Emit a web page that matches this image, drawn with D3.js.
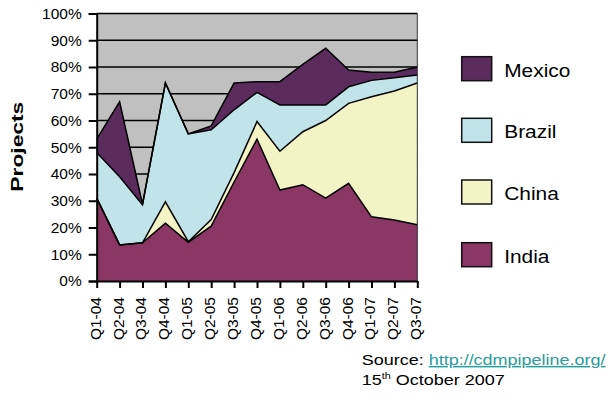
<!DOCTYPE html>
<html>
<head>
<meta charset="utf-8">
<script src="https://cdn.jsdelivr.net/npm/d3@7"></script>
<style>
  html, body { margin: 0; padding: 0; background: #fff; }
  svg { display: block; font-family: "Liberation Sans", Arial, sans-serif; }
</style>
</head>
<body>
<svg id="chart" width="612" height="394"></svg>
<script>
// ---- data (percent of projects, per quarter) ----
const quarters = ["Q1-04","Q2-04","Q3-04","Q4-04","Q1-05","Q2-05","Q3-05","Q4-05",
                  "Q1-06","Q2-06","Q3-06","Q4-06","Q1-07","Q2-07","Q3-07"];
const india  = [31, 13.5, 14.3, 21.6, 14.5, 20.5, 37, 53, 34, 36, 31, 36.5, 24, 22.8, 21];
const china  = [0, 0, 0, 8, 0.2, 2.5, 3.5, 6.6, 14.5, 19.8, 29, 29.9, 44.9, 48.2, 53];
const brazil = [17, 25.5, 14.2, 44.4, 40.3, 33.5, 23.5, 10.9, 17.3, 10, 5.8, 6.2, 6.1, 5, 3];
const mexico = [5, 28, 0.2, 0, 0, 1.5, 10, 4, 8.7, 15.2, 21.2, 6.3, 3, 2, 3];
const yTicks = [0, 10, 20, 30, 40, 50, 60, 70, 80, 90, 100];
const seriesNames = ["India", "China", "Brazil", "Mexico"];
const legendOrder = ["Mexico", "Brazil", "China", "India"];
const colors = { India: "#8b3766", China: "#f3f3c6", Brazil: "#c0e4ea", Mexico: "#5c2b5e" };

const table = quarters.map((q, i) => ({
  q, India: india[i], China: china[i], Brazil: brazil[i], Mexico: mexico[i]
}));

const svg = d3.select("#chart");
const L = 96.7, R = 417.3, T = 13.5, B = 281;

const x = d3.scalePoint().domain(quarters).range([L, R]);
const y = d3.scaleLinear().domain([0, 100]).range([B, T]);

// plot background
svg.append("rect").attr("x", L).attr("y", T).attr("width", R - L).attr("height", B - T)
  .attr("fill", "#c0c0c0");

// gridlines
svg.append("g").selectAll("line").data(yTicks.filter(d => d > 0)).join("line")
  .attr("x1", L).attr("x2", R).attr("y1", d => y(d)).attr("y2", d => y(d))
  .attr("stroke", "#000").attr("stroke-width", 1.6);

// stacked areas
const stack = d3.stack().keys(seriesNames);
const layers = stack(table);
const area = d3.area().x(d => x(d.data.q)).y0(d => y(d[0])).y1(d => y(d[1]));
const topLine = d3.line().x(d => x(d.data.q)).y(d => y(d[1]));

svg.append("g").selectAll("path").data(layers).join("path")
  .attr("d", area).attr("fill", d => colors[d.key]);
svg.append("g").selectAll("path").data(layers).join("path")
  .attr("d", topLine).attr("fill", "none").attr("stroke", "#000")
  .attr("stroke-width", 1.5).attr("stroke-linejoin", "miter");

// right border
svg.append("line").attr("x1", R).attr("x2", R).attr("y1", T).attr("y2", B)
  .attr("stroke", "#333").attr("stroke-width", 1);

// y axis
const yAxis = d3.axisLeft(y).tickValues(yTicks).tickFormat(d => d + "%").tickSize(8).tickPadding(7);
const gy = svg.append("g").attr("transform", `translate(${L},0)`).call(yAxis);
gy.select(".domain").attr("stroke", "#000").attr("stroke-width", 2);
gy.selectAll(".tick line").attr("stroke", "#000").attr("stroke-width", 2);
gy.selectAll(".tick text").attr("font-size", 15.5).attr("fill", "#000")
  .attr("font-family", "Liberation Sans, Arial, sans-serif");

// x axis
const xAxis = d3.axisBottom(x).tickSize(7).tickSizeOuter(0);
const gx = svg.append("g").attr("transform", `translate(0,${B})`).call(xAxis);
gx.select(".domain").attr("stroke", "#000").attr("stroke-width", 2);
gx.selectAll(".tick line").attr("stroke", "#000").attr("stroke-width", 2);
gx.selectAll(".tick text")
  .attr("font-size", 15.5).attr("fill", "#000")
  .attr("font-family", "Liberation Sans, Arial, sans-serif")
  .attr("text-anchor", "end")
  .attr("transform", "translate(-2,16) rotate(-90)")
  .attr("x", 0).attr("y", 0).attr("dy", "0.35em");

// y title
svg.append("text")
  .attr("transform", "translate(17,146.7) rotate(-90)")
  .attr("text-anchor", "middle").attr("dy", "0.35em")
  .attr("font-size", 17).attr("font-weight", "bold")
  .attr("textLength", 90).attr("lengthAdjust", "spacingAndGlyphs")
  .text("Projects");

// legend
const legY = [56.7, 118.3, 180, 242.7];
const leg = svg.append("g").selectAll("g").data(legendOrder).join("g")
  .attr("transform", (d, i) => `translate(461.7,${legY[i]})`);
leg.append("rect").attr("width", 30).attr("height", 24)
  .attr("fill", d => colors[d]).attr("stroke", "#111").attr("stroke-width", 1.5);
leg.append("text").attr("x", 42.5).attr("y", 20)
  .attr("font-size", 18.5)
  .attr("transform", "translate(42.5,0) scale(1.13,1) translate(-42.5,0)")
  .text(d => d);

// source note
const src = svg.append("g").attr("transform", "translate(361.7,365) scale(1.2,1)");
const t1 = src.append("text").attr("font-size", 15).attr("x", 0).attr("y", 0);
t1.append("tspan").text("Source: ");
t1.append("tspan").attr("fill", "#2a9d9d").attr("text-decoration", "underline")
  .text("http://cdmpipeline.org/");
const src2 = svg.append("g").attr("transform", "translate(361.7,385) scale(1.2,1)");
const t2 = src2.append("text").attr("font-size", 15).attr("x", 0).attr("y", 0);
t2.append("tspan").text("15");
t2.append("tspan").attr("font-size", 9).attr("dy", -6).text("th");
t2.append("tspan").attr("dy", 6).text(" October 2007");
</script>
</body>
</html>
